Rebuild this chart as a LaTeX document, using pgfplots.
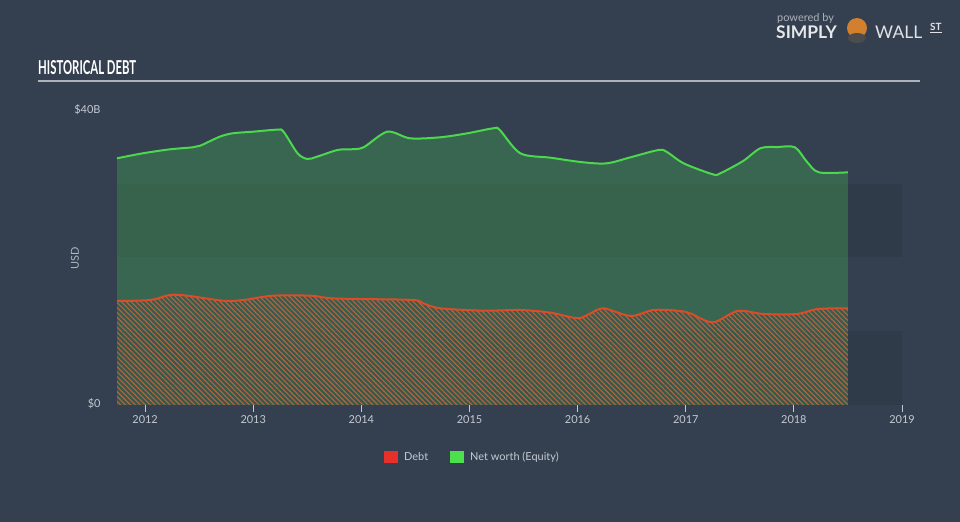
\documentclass[border=0pt]{standalone}
\usepackage{pgfplots}
\pgfplotsset{compat=1.18}
\usepackage{fontspec}
\setmainfont{Lato}
\usetikzlibrary{patterns.meta}
\definecolor{bg}{HTML}{344050}
\definecolor{band}{HTML}{303B4A}
\definecolor{tickc}{HTML}{C4C9D0}
\definecolor{eqline}{HTML}{4CD84C}
\definecolor{eqfill}{HTML}{46B450}
\definecolor{debtline}{HTML}{DC4C28}
\definecolor{hatch}{HTML}{B8643C}
\definecolor{legred}{HTML}{E8302A}
\definecolor{leggreen}{HTML}{4CE04C}
\begin{document}
\begin{tikzpicture}
\fill[bg] (0bp,0bp) rectangle (960bp,522bp);
\useasboundingbox (0bp,0bp) rectangle (960bp,522bp);
\begin{scope}[x=1bp,y=1bp]
% title
\node[anchor=south west,inner sep=0pt,text=white] at (38,447) {\resizebox{98bp}{14bp}{\bfseries HISTORICAL DEBT}};
\draw[color=white!60!bg,line width=1.5bp] (38,441) -- (920,441);
% logo
\node[anchor=west,inner sep=0pt,text=white!60!bg,font=\fontsize{11}{11}\selectfont] at (777,504) {powered by};
\node[anchor=west,inner sep=0pt,text=white!88!bg,font=\fontsize{17.5}{17.5}\selectfont\bfseries] at (776,490) {SIMPLY};
\fill[brown!70!orange] (857,494) circle (10);
\fill[black!70] (857,484) ellipse (9 and 5);
\node[anchor=west,inner sep=0pt,text=white!85!bg,font=\fontsize{17.5}{17.5}\selectfont] at (875,490) {WALL};
\node[anchor=west,inner sep=0pt,text=white!85!bg,font=\fontsize{10}{10}\selectfont\bfseries] at (930,494) {\underline{ST}};
\node[rotate=90,text=tickc!85!bg,font=\fontsize{11}{11}\selectfont] at (75,264) {USD};
% legend
\fill[legred] (384,59) rectangle (398,71);
\node[anchor=west,inner sep=0pt,text=tickc,font=\fontsize{11}{11}\selectfont] at (404,65) {Debt};
\fill[leggreen] (450,59) rectangle (464,71);
\node[anchor=west,inner sep=0pt,text=tickc,font=\fontsize{11}{11}\selectfont] at (470,65) {Net worth (Equity)};
\end{scope}
\begin{axis}[
  at={(117bp,117bp)}, anchor=south west,
  scale only axis, width=785bp, height=295bp,
  xmin=2011.74, xmax=2019, ymin=0, ymax=40,
  axis y line=none,
  axis x line*=bottom,
  x axis line style={draw=tickc,line width=1bp,-},
  xtick={2012,2013,2014,2015,2016,2017,2018,2019},
  xticklabel style={/pgf/number format/1000 sep={},text=tickc,font=\fontsize{11}{11}\selectfont},
  /pgf/number format/assume math mode=true,
  tick style={draw=tickc,line width=1bp},
  major tick length=7bp,
  tick align=outside,
  clip=false,
]
\fill[band] (axis cs:2011.74,0) rectangle (axis cs:2019,10);
\fill[band] (axis cs:2011.74,20) rectangle (axis cs:2019,30);
\addplot[smooth, draw=none, fill=eqfill, fill opacity=0.33] coordinates {
(2011.74,33.45)(2011.98,34.13)(2012.23,34.67)(2012.44,34.94)(2012.51,35.16)(2012.69,36.38)(2012.81,36.84)(2013.0,37.06)(2013.22,37.33)(2013.28,37.06)(2013.41,34.13)(2013.50,33.36)(2013.59,33.67)(2013.78,34.58)(2013.90,34.67)(2014.02,34.94)(2014.24,37.06)(2014.45,36.16)(2014.73,36.30)(2014.98,36.84)(2015.22,37.52)(2015.28,37.29)(2015.47,34.13)(2015.75,33.53)(2016.05,32.91)(2016.27,32.77)(2016.49,33.59)(2016.75,34.58)(2016.83,34.27)(2016.98,32.77)(2017.25,31.28)(2017.32,31.42)(2017.53,33.08)(2017.69,34.81)(2017.85,34.98)(2018.01,34.94)(2018.12,32.99)(2018.23,31.55)(2018.50,31.55)
} \closedcycle;
\addplot[smooth, draw=none, fill=bg, fill opacity=0.25] coordinates {
(2011.74,14.10)(2012.05,14.24)(2012.23,14.92)(2012.39,14.82)(2012.72,14.14)(2012.91,14.24)(2013.18,14.82)(2013.53,14.82)(2013.71,14.47)(2013.99,14.37)(2014.48,14.24)(2014.57,13.79)(2014.73,13.11)(2015.13,12.79)(2015.47,12.88)(2015.75,12.52)(2016.0,11.76)(2016.12,12.43)(2016.24,13.11)(2016.49,12.07)(2016.70,12.88)(2016.92,12.79)(2017.04,12.43)(2017.25,11.21)(2017.48,12.75)(2017.72,12.34)(2018.03,12.34)(2018.22,13.02)(2018.50,13.11)
} \closedcycle;
\addplot[smooth, draw=none, pattern={Lines[angle=-45,distance=3.5bp,line width=1.1bp]}, pattern color=hatch] coordinates {
(2011.74,14.10)(2012.05,14.24)(2012.23,14.92)(2012.39,14.82)(2012.72,14.14)(2012.91,14.24)(2013.18,14.82)(2013.53,14.82)(2013.71,14.47)(2013.99,14.37)(2014.48,14.24)(2014.57,13.79)(2014.73,13.11)(2015.13,12.79)(2015.47,12.88)(2015.75,12.52)(2016.0,11.76)(2016.12,12.43)(2016.24,13.11)(2016.49,12.07)(2016.70,12.88)(2016.92,12.79)(2017.04,12.43)(2017.25,11.21)(2017.48,12.75)(2017.72,12.34)(2018.03,12.34)(2018.22,13.02)(2018.50,13.11)
} \closedcycle;
\addplot[smooth, eqline, line width=2bp] coordinates {
(2011.74,33.45)(2011.98,34.13)(2012.23,34.67)(2012.44,34.94)(2012.51,35.16)(2012.69,36.38)(2012.81,36.84)(2013.0,37.06)(2013.22,37.33)(2013.28,37.06)(2013.41,34.13)(2013.50,33.36)(2013.59,33.67)(2013.78,34.58)(2013.90,34.67)(2014.02,34.94)(2014.24,37.06)(2014.45,36.16)(2014.73,36.30)(2014.98,36.84)(2015.22,37.52)(2015.28,37.29)(2015.47,34.13)(2015.75,33.53)(2016.05,32.91)(2016.27,32.77)(2016.49,33.59)(2016.75,34.58)(2016.83,34.27)(2016.98,32.77)(2017.25,31.28)(2017.32,31.42)(2017.53,33.08)(2017.69,34.81)(2017.85,34.98)(2018.01,34.94)(2018.12,32.99)(2018.23,31.55)(2018.50,31.55)
};
\addplot[smooth, debtline, line width=2bp] coordinates {
(2011.74,14.10)(2012.05,14.24)(2012.23,14.92)(2012.39,14.82)(2012.72,14.14)(2012.91,14.24)(2013.18,14.82)(2013.53,14.82)(2013.71,14.47)(2013.99,14.37)(2014.48,14.24)(2014.57,13.79)(2014.73,13.11)(2015.13,12.79)(2015.47,12.88)(2015.75,12.52)(2016.0,11.76)(2016.12,12.43)(2016.24,13.11)(2016.49,12.07)(2016.70,12.88)(2016.92,12.79)(2017.04,12.43)(2017.25,11.21)(2017.48,12.75)(2017.72,12.34)(2018.03,12.34)(2018.22,13.02)(2018.50,13.11)
};
\node[anchor=east,text=tickc,font=\fontsize{11}{11}\selectfont] at (axis cs:2011.74,40) [xshift=-13bp] {\$40B};
\node[anchor=east,text=tickc,font=\fontsize{11}{11}\selectfont] at (axis cs:2011.74,0) [xshift=-13bp,yshift=1bp] {\$0};
\end{axis}
\end{tikzpicture}
\end{document}
